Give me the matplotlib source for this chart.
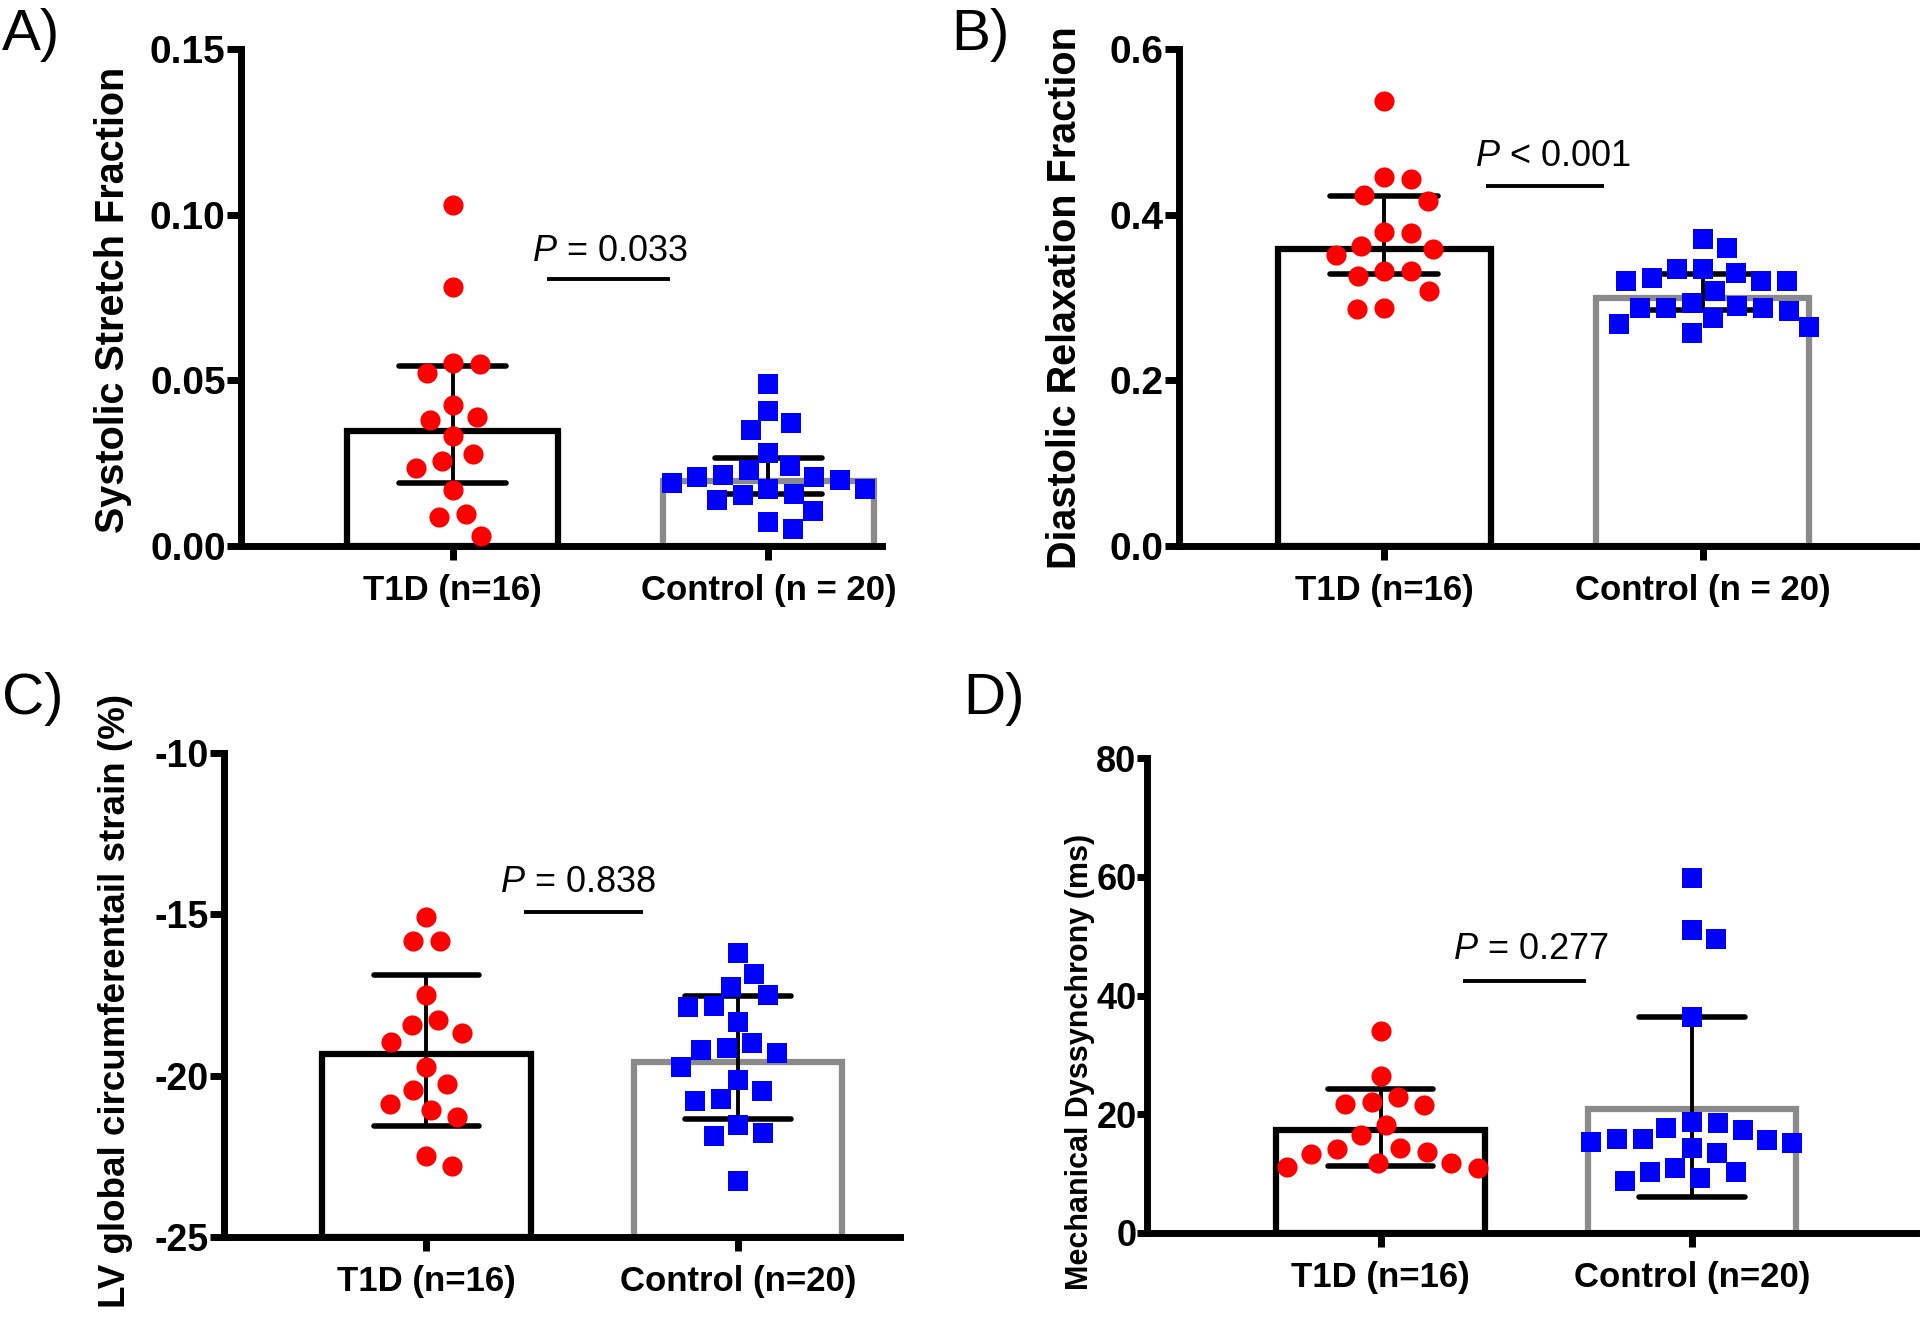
import numpy as np
import matplotlib
matplotlib.use("Agg")
import matplotlib.pyplot as plt

plt.rcParams['font.family'] = ['Liberation Sans', 'DejaVu Sans']
plt.rcParams['mathtext.fontset'] = 'custom'
plt.rcParams['mathtext.rm'] = 'Liberation Sans'
plt.rcParams['mathtext.it'] = 'Liberation Sans:italic'

# ---------------- data ----------------
groups_AB = ["T1D (n=16)", "Control (n = 20)"]
groups_CD = ["T1D (n=16)", "Control (n=20)"]

# A) Systolic stretch fraction
a_t1d = [0.1029, 0.0783, 0.0551, 0.0548, 0.0522, 0.0426, 0.0390, 0.0380,
         0.0332, 0.0278, 0.0257, 0.0235, 0.0168, 0.0097, 0.0087, 0.0029]
a_ctl = [0.0488, 0.0408, 0.0372, 0.0349, 0.0281, 0.0240, 0.0230, 0.0209,
         0.0214, 0.0209, 0.0191, 0.0199, 0.0173, 0.0173, 0.0158, 0.0153,
         0.0138, 0.0105, 0.0071, 0.0051]
a_bar = [0.0347, 0.0196]
a_err_lo = [0.0189, 0.0157]
a_err_hi = [0.0543, 0.0265]
a_p = "$P$ = 0.033"

# B) Diastolic relaxation fraction
b_t1d = [0.5367, 0.4449, 0.4429, 0.4233, 0.4171, 0.3796, 0.3776, 0.3624,
         0.3510, 0.3584, 0.3318, 0.3257, 0.3318, 0.3073, 0.2857, 0.2869]
b_ctl = [0.3706, 0.3592, 0.3237, 0.3204, 0.3347, 0.3347, 0.3298, 0.3204,
         0.3204, 0.3073, 0.2939, 0.2898, 0.2869, 0.2837, 0.2869, 0.2878,
         0.2755, 0.2686, 0.2645, 0.2571]
b_bar = [0.358, 0.300]
b_err_lo = [0.3278, 0.2845]
b_err_hi = [0.4224, 0.3286]
b_p = "$P$ < 0.001"

# C) LV global circumferential strain (%)
c_t1d = [-15.09, -15.82, -15.82, -17.51, -18.26, -18.42, -18.67, -18.95,
         -19.72, -20.27, -20.44, -20.88, -21.06, -21.28, -22.50, -22.81]
c_ctl = [-16.20, -16.84, -17.25, -17.51, -17.85, -17.88, -18.33, -19.00,
         -19.14, -19.29, -19.22, -19.73, -20.13, -20.47, -20.78, -20.73,
         -21.52, -21.79, -21.86, -23.27]
c_bar = [-19.34, -19.57]
c_err_lo = [-21.55, -21.33]
c_err_hi = [-16.89, -17.54]
c_p = "$P$ = 0.838"

# D) Mechanical dyssynchrony (ms)
d_t1d = [33.97, 26.37, 22.93, 22.08, 21.58, 21.80, 18.20, 16.45, 14.20,
         14.37, 13.24, 13.63, 11.72, 11.83, 10.87, 11.10]
d_ctl = [59.72, 50.99, 49.46, 36.34, 17.75, 18.70, 18.59, 17.30, 15.77,
         15.61, 15.10, 15.38, 15.77, 14.25, 13.41, 10.87, 10.31, 8.73,
         9.30, 10.31]
d_bar = [17.35, 20.9]
d_err_lo = [11.27, 6.0]
d_err_hi = [24.3, 36.3]
d_p = "$P$ = 0.277"

# ---------------- figure ----------------
W, H = 1920, 1322
fig = plt.figure(figsize=(W / 100, H / 100), dpi=100)

def axes_px(left, right, top, bottom):
    return fig.add_axes([left / W, 1 - bottom / H, (right - left) / W, (bottom - top) / H])

RED = '#ff0000'
BLUE = '#0000ff'
GREY = '#8a8a8a'
MS = 14.5       # marker size (points)
SPINE_LW = 5.0
BAR_LW = 4.5
ERR_LW = 2.8
CAP_W = 0.34

def swarm_x(ax, x0, vals, d):
    pts = ax.transData.transform(np.column_stack([np.full(len(vals), x0), vals]))
    ys = pts[:, 1]
    xc = pts[0, 0]
    placed = []
    offs = np.zeros(len(vals))
    order = np.argsort(-ys, kind='stable')
    for i in order:
        y = ys[i]
        cands = [0.0]
        for px, py in placed:
            dy = y - py
            if abs(dy) < d:
                dx = np.sqrt(d * d - dy * dy)
                cands += [px + dx, px - dx]
        cands = sorted(cands, key=lambda c: (round(abs(c), 3), -c))
        chosen = cands[-1]
        for c in cands:
            if all((c - px) ** 2 + (y - py) ** 2 >= d * d - 1e-6 for px, py in placed):
                chosen = c
                break
        placed.append((chosen, y))
        offs[i] = chosen
    inv = ax.transData.inverted()
    return inv.transform(np.column_stack([xc + offs, ys]))[:, 0]

def panel(rect, xlim, ylim, yticks, yticklabels, groups, t1d, ctl, bars, lo, hi,
          ylabel, ylab_xy, ylab_size, ytick_size, ptext, pline_x, pline_y, ptext_xy,
          letter, letter_xy, ytick_len=10, ytick_pad=1):
    ax = axes_px(*rect)
    ax.set_xlim(*xlim)
    ax.set_ylim(*ylim)
    for s in ('top', 'right'):
        ax.spines[s].set_visible(False)
    for s in ('left', 'bottom'):
        ax.spines[s].set_linewidth(SPINE_LW)
        ax.spines[s].set_capstyle('projecting')
    ax.set_yticks(yticks)
    ax.set_yticklabels(yticklabels)
    ax.set_xticks([0, 1])
    ax.set_xticklabels(groups)
    ax.tick_params(axis='both', width=SPINE_LW, length=10)
    ax.tick_params(axis='x', labelsize=25, pad=10)
    ax.tick_params(axis='y', labelsize=ytick_size, pad=ytick_pad, length=ytick_len)
    for lab in ax.get_xticklabels() + ax.get_yticklabels():
        lab.set_fontweight('bold')

    base = ylim[0]
    edge_cols = ['black', GREY]
    for i in range(2):
        ax.bar(i, bars[i] - base, bottom=base, width=0.67, color='white',
               edgecolor=edge_cols[i], linewidth=BAR_LW, zorder=2, clip_on=False)
        ax.plot([i, i], [lo[i], hi[i]], color='black', lw=ERR_LW, zorder=3,
                solid_capstyle='butt')
        for yv in (lo[i], hi[i]):
            ax.plot([i - CAP_W / 2, i + CAP_W / 2], [yv, yv], color='black',
                    lw=ERR_LW + 1.2, zorder=3, solid_capstyle='round')

    fig.canvas.draw()
    xs_t = swarm_x(ax, 0, t1d, 27)
    xs_c = swarm_x(ax, 1, ctl, 26)
    ax.scatter(xs_t, t1d, s=MS ** 2, marker='o', color=RED, linewidths=0, zorder=4,
               clip_on=False)
    ax.scatter(xs_c, ctl, s=MS ** 2, marker='s', color=BLUE, linewidths=0, zorder=4,
               clip_on=False)

    ax.plot(pline_x, [pline_y, pline_y], color='black', lw=2.8, solid_capstyle='butt')
    ax.text(ptext_xy[0], ptext_xy[1], ptext, fontsize=26, ha='center', va='center')

    ax.text(ylab_xy[0], ylab_xy[1], ylabel, transform=ax.transAxes, rotation=90,
            ha='center', va='center', fontsize=ylab_size, fontweight='bold')
    fig.text(letter_xy[0] / W, 1 - letter_xy[1] / H, letter, fontsize=42,
             ha='left', va='top')
    return ax

panel((241, 882, 49, 546), (-0.67, 1.36), (0, 0.15), [0, 0.05, 0.10, 0.15],
      ['0.00', '0.05', '0.10', '0.15'], groups_AB, a_t1d, a_ctl, a_bar, a_err_lo, a_err_hi,
      'Systolic Stretch Fraction', (-0.2, 0.495), 28.5, 28, a_p, [0.30, 0.69], 0.0806,
      (0.50, 0.0890), 'A)', (2, 8))

panel((1179, 1916, 49, 546), (-0.645, 1.67), (0, 0.6), [0, 0.2, 0.4, 0.6],
      ['0.0', '0.2', '0.4', '0.6'], groups_AB, b_t1d, b_ctl, b_bar, b_err_lo, b_err_hi,
      'Diastolic Relaxation Fraction', (-0.155, 0.5), 28.5, 28, b_p, [0.318, 0.69], 0.435,
      (0.53, 0.47), 'B)', (951, 8))

panel((224, 900, 753, 1237), (-0.65, 1.52), (-25, -10), [-25, -20, -15, -10],
      ['-25', '-20', '-15', '-10'], groups_CD, c_t1d, c_ctl, c_bar, c_err_lo, c_err_hi,
      'LV global circumferentail strain (%)', (-0.16, 0.488), 26.5, 27, c_p,
      [0.314, 0.696], -14.93, (0.487, -14.0), 'C)', (2, 672))

panel((1147, 1916, 758, 1233), (-0.75, 1.72), (0, 80), [0, 20, 40, 60, 80],
      ['0', '20', '40', '60', '80'], groups_CD, d_t1d, d_ctl, d_bar, d_err_lo, d_err_hi,
      'Mechanical Dyssynchrony (ms)', (-0.087, 0.36), 22, 26, d_p, [0.266, 0.66],
      42.4, (0.484, 47.8), 'D)', (963, 672), ytick_len=7, ytick_pad=0.5)

fig.savefig('out.png', dpi=100)
